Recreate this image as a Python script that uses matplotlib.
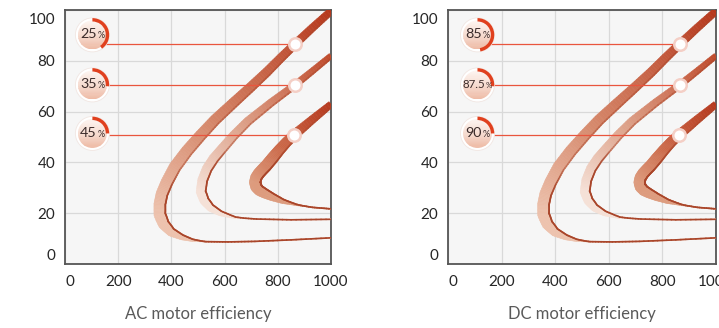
import numpy as np
import matplotlib
matplotlib.use("Agg")
import matplotlib.pyplot as plt
from matplotlib import transforms
from matplotlib.patches import Circle, Wedge, Rectangle
from matplotlib.collections import PolyCollection, LineCollection
from matplotlib.colors import LinearSegmentedColormap, to_rgba
from matplotlib.offsetbox import TextArea, HPacker, AnnotationBbox

# ---------------- data ----------------
x_ticks = [0, 200, 400, 600, 800, 1000]
y_ticks = [0, 20, 40, 60, 80, 100]

# outer curve (lower branch right -> nose -> upper branch right)
outer_x = [1000, 850, 714, 613, 530, 480, 440, 400, 372, 357, 357, 365, 384, 414,
           459, 510, 564, 632, 700, 759, 812, 865, 930, 1000]
outer_y = [10.3, 9.5, 8.9, 8.7, 8.8, 9.4, 10.6, 12.6, 15.7, 19.5, 23.6, 27.6, 32.3, 38.2,
           44.5, 50.6, 56.7, 63.3, 69.8, 75.6, 81.2, 86.6, 93.0, 99.6]

# middle curve
middle_x = [1000, 850, 720, 640, 585, 548, 525, 512, 518, 535, 560, 590, 635, 688,
            776, 865, 935, 1000]
middle_y = [17.6, 17.4, 17.7, 18.3, 20.0, 22.2, 25.0, 28.5, 33.0, 37.5, 41.5, 45.2, 50.6, 56.2,
            63.6, 70.5, 76.4, 82.0]

# inner curve
inner_x = [1000, 930, 872, 820, 780, 752, 731, 719, 715, 719, 729, 742, 756, 780,
           806, 833, 861, 930, 1000]
inner_y = [21.7, 22.3, 23.3, 24.7, 26.4, 27.8, 29.0, 30.4, 32.2, 34.0, 35.6, 37.1, 38.6, 41.6,
           44.9, 48.0, 50.8, 56.9, 62.9]

marker_x = [865, 865, 861]
marker_y = [86.6, 70.5, 50.8]
badge_y = [90.2, 70.5, 51.4]

ac_values = ["25", "35", "45"]
dc_values = ["85", "87.5", "90"]
ac_arc_deg = [145, 95, 90]
dc_arc_deg = [170, 95, 90]

titles = ["AC motor efficiency", "DC motor efficiency"]

# ---------------- styling ----------------
FONT = ["Lato", "DejaVu Sans"]
plt.rcParams["font.family"] = FONT

W, H = 719, 328
fig = plt.figure(figsize=(W / 100, H / 100), dpi=100)
fig.patch.set_facecolor("white")

ax_l = fig.add_axes([65 / W, 64 / H, 266 / W, 254 / H])
ax_r = fig.add_axes([448 / W, 64 / H, 268 / W, 254 / H])

curve_styles = [
    # (w_lower, w_nose, w_end, c_nose, c_mid, c_end, hold_px)
    (1.0, 12.0, 7.0, "#edc2ad", "#d5876a", "#b6381c", 55),
    (1.0, 10.0, 5.5, "#f5e1d7", "#dea38b", "#bf4a2b", 35),
    (1.0, 11.5, 6.5, "#dd9b7d", "#cb6848", "#b63a1f", 30),
]


def smoothstep(u):
    u = np.clip(u, 0, 1)
    return u * u * (3 - 2 * u)


def draw_band(ax, xs, ys, style):
    w_lo, w_no, w_en, c_no, c_mi, c_en, hold = style
    cmap = LinearSegmentedColormap.from_list(
        "band", [(0, c_no), (0.4, c_mi), (1, c_en)])
    P = ax.transData.transform(np.column_stack([xs, ys]).astype(float))
    # subdivide straight segments for a smooth colour/width gradient
    k = 8
    Q = []
    for i in range(len(P) - 1):
        for j in range(k):
            Q.append(P[i] + (P[i + 1] - P[i]) * j / k)
    Q.append(P[-1])
    Q = np.array(Q)
    T = np.gradient(Q, axis=0)
    T /= np.hypot(T[:, 0], T[:, 1])[:, None]
    Tn = np.copy(T)
    for _ in range(6):
        Tn[1:-1] = (Tn[:-2] + 2 * Tn[1:-1] + Tn[2:]) / 4
    Tn /= np.hypot(Tn[:, 0], Tn[:, 1])[:, None]
    N = np.column_stack([-Tn[:, 1], Tn[:, 0]])
    seg = np.hypot(*np.diff(Q, axis=0).T)
    L = np.concatenate([[0], np.cumsum(seg)])
    n_idx = int(np.argmin(Q[:, 0]))
    Ln, Le = L[n_idx], L[-1]
    ramp = 60.0
    w = np.where(
        L <= Ln,
        w_lo + (w_no - w_lo) * smoothstep((L - (Ln - ramp)) / ramp),
        np.where(L <= Ln + hold, w_no,
                 w_no + (w_en - w_no) * np.clip((L - Ln - hold) / (Le - Ln - hold), 0, 1)))
    u = np.clip((L - Ln) / (Le - Ln), 0, 1)
    outer = Q + N * (w[:, None] / 2)
    inner = Q - N * (w[:, None] / 2)
    inv = ax.transData.inverted()
    outer_d = inv.transform(outer)
    inner_d = inv.transform(inner)
    polys, cols = [], []
    for i in range(len(Q) - 1):
        polys.append([outer_d[i], outer_d[i + 1], inner_d[i + 1], inner_d[i]])
        cols.append(cmap((u[i] + u[i + 1]) / 2))
    pc = PolyCollection(polys, facecolors=cols, edgecolors=cols, linewidths=0.4,
                        zorder=3, antialiased=True)
    ax.add_collection(pc)
    # dark thin line along the inner edge
    edge = inv.transform(Q - N * (np.maximum(w[:, None] / 2 - 0.6, 0)))
    segs = np.stack([edge[:-1], edge[1:]], axis=1)
    alpha = np.where(L[:-1] <= Ln + 15, 1.0,
                     np.clip(1 - (L[:-1] - Ln - 15) / 60, 0.35, 1.0))
    base = np.array(to_rgba("#a9452a"))
    lcols = np.tile(base, (len(segs), 1))
    lcols[:, 3] = alpha
    lc = LineCollection(segs, colors=lcols, linewidths=1.2, zorder=3.5,
                        capstyle="round", joinstyle="round")
    ax.add_collection(lc)


def draw_badge(ax, bx, by, value, arc_deg):
    trans = fig.dpi_scale_trans + transforms.ScaledTranslation(bx, by, ax.transData)
    r_out, r_in = 0.17, 0.145
    ring = Circle((0, 0), r_out, transform=trans, facecolor="white",
                  edgecolor="#f1e6e2", lw=0.6, zorder=7)
    ax.add_patch(ring)
    disc = Circle((0, 0), r_in, transform=trans, facecolor="none",
                  edgecolor="none", zorder=7.1)
    ax.add_patch(disc)
    grad = LinearSegmentedColormap.from_list("g", ["#fdf4f0", "#f6dcd1", "#eebba6"])
    nstrip = 24
    h = 2 * r_in / nstrip
    for i in range(nstrip):
        rect = Rectangle((-r_in, r_in - (i + 1) * h), 2 * r_in, h * 1.05,
                         transform=trans, facecolor=grad(i / (nstrip - 1)),
                         edgecolor="none", zorder=7.2)
        ax.add_patch(rect)
        rect.set_clip_path(disc)
    arc = Wedge((0, 0), 0.168, 90 - arc_deg, 90, width=0.034, transform=trans,
                facecolor="#e0401e", edgecolor="none", zorder=7.4)
    ax.add_patch(arc)
    small = len(value) > 2
    num = TextArea(value, textprops=dict(fontsize=8.3 if small else 10.3,
                                         color="#3b2b2a", family=FONT))
    pct = TextArea("%", textprops=dict(fontsize=5.8 if small else 6.5,
                                       color="#3b2b2a", family=FONT))
    box = HPacker(children=[num, pct], align="baseline", pad=0, sep=0.5)
    ab = AnnotationBbox(box, (bx, by), xycoords="data", frameon=False,
                        box_alignment=(0.5, 0.45), zorder=8, pad=0)
    ax.add_artist(ab)


def style_axes(ax, title):
    ax.set_xlim(0, 1000)
    ax.set_ylim(0, 100)
    ax.set_facecolor("#f6f6f6")
    ax.set_xticks(x_ticks, [str(v) for v in x_ticks])
    ax.set_yticks(y_ticks, [str(v) for v in y_ticks])
    ax.grid(True, color="#d9d9d9", lw=0.9, zorder=0)
    ax.set_axisbelow(True)
    for sp in ax.spines.values():
        sp.set_color("#555555")
        sp.set_linewidth(1.3)
    ax.tick_params(length=0, labelsize=11, labelcolor="#262626")
    ax.tick_params(axis="y", pad=7)
    ax.tick_params(axis="x", pad=8)
    ylabels = ax.get_yticklabels()
    ylabels[0].set_transform(ylabels[0].get_transform() +
                             transforms.ScaledTranslation(0, 9 / 100, fig.dpi_scale_trans))
    ylabels[-1].set_transform(ylabels[-1].get_transform() +
                              transforms.ScaledTranslation(0, -8 / 100, fig.dpi_scale_trans))
    xlabels = ax.get_xticklabels()
    xlabels[0].set_transform(xlabels[0].get_transform() +
                             transforms.ScaledTranslation(5 / 100, 0, fig.dpi_scale_trans))
    ax.set_xlabel(title, fontsize=12, color="#5a5a5a", labelpad=12)


for ax, title, vals, arcs, bx in [(ax_l, titles[0], ac_values, ac_arc_deg, 103),
                                  (ax_r, titles[1], dc_values, dc_arc_deg, 110)]:
    style_axes(ax, title)
    for cx, cy, st in [(outer_x, outer_y, curve_styles[0]),
                       (middle_x, middle_y, curve_styles[1]),
                       (inner_x, inner_y, curve_styles[2])]:
        draw_band(ax, cx, cy, st)
    for i in range(3):
        ax.plot([bx, marker_x[i]], [marker_y[i], marker_y[i]], color="#e9553e",
                lw=0.9, zorder=5, solid_capstyle="butt")
        ax.plot(marker_x[i], marker_y[i], "o", ms=9, mfc="white", mec="#f4cfc6",
                mew=1.8, zorder=6)
        draw_badge(ax, bx, badge_y[i], vals[i], arcs[i])
    ax.set_xlim(0, 1000)
    ax.set_ylim(0, 100)

fig.savefig("out.png", dpi=100)
